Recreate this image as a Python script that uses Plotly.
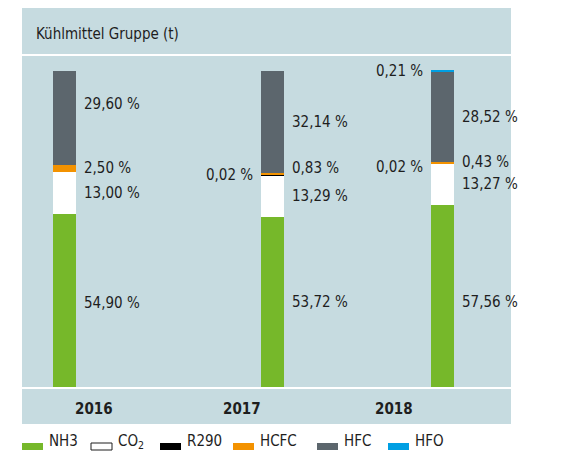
import plotly.graph_objects as go

# data (percent share per refrigerant group)
years = ["2016", "2017", "2018"]
nh3 = [54.90, 53.72, 57.56]
co2 = [13.00, 13.29, 13.27]
r290 = [0.00, 0.02, 0.02]
hcfc = [2.50, 0.83, 0.43]
hfc = [29.60, 32.14, 28.52]
hfo = [0.00, 0.00, 0.21]

series = [
    ("NH3", nh3, "#76b82a", "right"),
    ("CO<sub>2</sub>", co2, "#ffffff", "right"),
    ("R290", r290, "#000000", "left"),
    ("HCFC", hcfc, "#f39200", "right"),
    ("HFC", hfc, "#5c666d", "right"),
    ("HFO", hfo, "#009fe3", "left"),
]

BG = "#c6dbe0"
TXT = "#1e1e1e"
FONT = "DejaVu Sans Condensed, Roboto, sans-serif"

# page has an 8px body margin, so the figure is 16px smaller than the window
OFF = 8
W, H = 586 - 2 * OFF, 460 - 2 * OFF
# plot area in window pixels: x 22..511, y 56..387
L, R, T, B = 22 - OFF, 586 - 511 - OFF, 56 - OFF, 460 - 387 - OFF
PW, PH = W - L - R, H - T - B
bar_pos = [42.5, 250.5, 420.5]   # bar centres, x axis runs in pixels from the plot's left edge
bar_w = 23
year_x = [94, 242, 394]


def px(x):
    return (x - OFF - L) / PW


def py(y):
    return (H - B - (y - OFF)) / PH


# manual label nudges (pixels, up is positive)
nudge = {(0, "HFC"): 14, (1, "HCFC"): 6, (2, "R290"): -4, (2, "NH3"): -6, (0, "NH3"): -3}

fig = go.Figure()
for name, vals, col, side in series:
    fig.add_trace(go.Bar(
        x=bar_pos, y=vals, width=bar_w, name=name,
        marker=dict(color=col, line=dict(width=0)),
        showlegend=False, hoverinfo="skip",
    ))

annotations = []
# value labels
for i in range(len(years)):
    base = 0
    for name, vals, col, side in series:
        v = vals[i]
        if v > 0:
            key = (i, name.split("<")[0])
            if side == "right":
                xa, anchor = bar_pos[i] + bar_w / 2 + 6, "left"
            else:
                xa, anchor = bar_pos[i] - bar_w / 2 - 6, "right"
            annotations.append(dict(
                x=xa, y=base + v / 2, xref="x", yref="y",
                text=f"{v:.2f}".replace(".", ",") + " %",
                showarrow=False, xanchor=anchor, yanchor="middle",
                yshift=nudge.get(key, 0),
                font=dict(family=FONT, size=15, color=TXT),
            ))
        base += v

shapes = []
# title band and year band
shapes.append(dict(type="rect", xref="paper", yref="paper", x0=0, x1=1,
                   y0=py(54), y1=py(8), fillcolor=BG, line=dict(width=0), layer="below"))
shapes.append(dict(type="rect", xref="paper", yref="paper", x0=0, x1=1,
                   y0=py(424), y1=py(389), fillcolor=BG, line=dict(width=0), layer="below"))

annotations.append(dict(
    x=px(34), y=py(34), xref="paper", yref="paper", text="Kühlmittel Gruppe (t)",
    showarrow=False, xanchor="left", yanchor="middle",
    font=dict(family=FONT, size=15, color=TXT),
))
for yr, x in zip(years, year_x):
    annotations.append(dict(
        x=px(x), y=py(409), xref="paper", yref="paper", text=f"<b>{yr}</b>",
        showarrow=False, xanchor="center", yanchor="middle",
        font=dict(family=FONT, size=15, color=TXT),
    ))

# legend drawn by hand
leg_x = [22, 91, 160, 233, 317, 388]
for (name, vals, col, side), x in zip(series, leg_x):
    shapes.append(dict(
        type="rect", xref="paper", yref="paper",
        x0=px(x), x1=px(x + 21), y0=py(450), y1=py(443),
        fillcolor=col, line=dict(width=1 if col == "#ffffff" else 0, color="#1e1e1e"),
    ))
    annotations.append(dict(
        x=px(x + 25), y=py(441), xref="paper", yref="paper", text=name,
        showarrow=False, xanchor="left", yanchor="middle",
        font=dict(family=FONT, size=15, color=TXT),
    ))

fig.update_layout(
    width=W, height=H,
    margin=dict(l=L, r=R, t=T, b=B, pad=0),
    barmode="stack", bargap=0,
    paper_bgcolor="#ffffff", plot_bgcolor=BG,
    xaxis=dict(range=[0, PW], visible=False, fixedrange=True),
    yaxis=dict(range=[0, 104.75], visible=False, fixedrange=True),
    shapes=shapes, annotations=annotations,
    showlegend=False,
)

fig.write_html("out.html")
